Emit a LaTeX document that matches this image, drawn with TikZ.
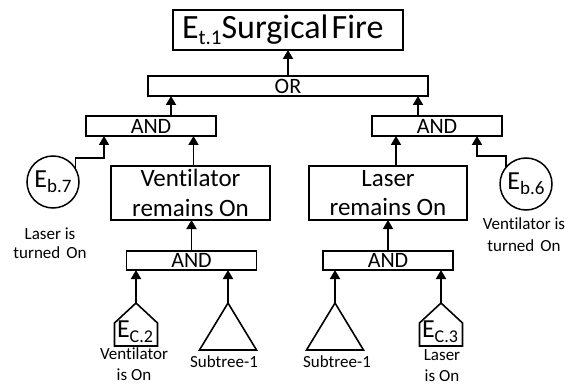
\documentclass[tikz,border=0pt]{standalone}
\usepackage{fontspec}
\setmainfont{Carlito}[Ligatures=NoCommon]
\usetikzlibrary{arrows.meta}

\newcommand\fs[1]{\fontsize{#1}{1.2\dimexpr#1pt\relax}\selectfont}
\newcommand\lowsub[3]{\raisebox{-#2pt}{\fontsize{#1}{#1}\selectfont #3}}

\begin{document}
\begin{tikzpicture}[x=1pt,y=-1pt,
  line width=1.9pt,
  every node/.style={inner sep=0pt, outer sep=0pt},
  eventbox/.style={draw, rectangle, align=center},
  gate/.style={draw, rectangle, minimum height=20pt, font=\fs{22}},
  andgate/.style={gate, minimum width=130pt},
  basic/.style={draw, circle, minimum size=52pt, line width=1.5pt},
  caption/.style={font=\fs{17}, align=center},
  arr/.style={-{Triangle[width=10pt,length=9pt]}},
]
\useasboundingbox (0,0) rectangle (576,385);

% top event and OR gate
\node[eventbox, minimum height=40pt, text width=212pt, inner xsep=9pt, align=left]
  (top) at (288,30) {\fs{34}E\lowsub{21}{6}{t.1}Surgical Fire};
\node[gate, minimum width=280pt] (or) at (288,86) {OR};

% upper AND gates
\node[andgate] (andL) at (151,126) {AND};
\node[andgate] (andR) at (437,126) {AND};

% intermediate events
\node[eventbox, minimum width=159pt, minimum height=54pt, font=\fs{25}]
  (vent) at (190.5,193) {Ventilator\\[-0.5pt]remains On};
\node[eventbox, minimum width=158pt, minimum height=54pt, font=\fs{25}]
  (laser) at (388,193) {Laser\\[-0.5pt]remains On};

% basic events
\node[basic] (eb7) at (53,182) {\fs{26}E\lowsub{19}{5}{b.7}};
\node[basic] (eb6) at (526,184) {\fs{26}E\lowsub{19}{5}{b.6}};
\node[caption, font=\fontsize{17}{19}\selectfont] (c7) at (50,243.5) {Laser is\\turned\hspace{0.35em}On};
\node[caption, font=\fontsize{17}{22}\selectfont] (c6) at (524,235) {Ventilator is\\turned\hspace{0.35em}On};

% lower AND gates
\node[andgate, minimum height=19pt] (andLL) at (191.5,260.5) {AND};
\node[andgate, minimum height=19pt] (andRL) at (388,260.5) {AND};

% conditioning events (house shapes) and transfer triangles
\coordinate (h2) at (136,303);
\coordinate (h3) at (441,303);
\coordinate (s1) at (228,303);
\coordinate (s2) at (335,303);
\foreach \h in {h2,h3}
  \draw[line width=1.6pt] (\h) -- ++(21.5,20) -- ++(0,23) -- ++(-43,0) -- ++(0,-23) -- cycle;
\foreach \s in {s1,s2}
  \draw[line width=1.6pt] (\s) -- ++(28.5,47) -- ++(-57,0) -- cycle;

\node[anchor=base west] (ec2) at (117,337) {\fs{26}E\lowsub{18}{5}{C.2}};
\node[anchor=base west] (ec3) at (422,337) {\fs{26}E\lowsub{18}{5}{C.3}};
\node[caption, font=\fontsize{17}{21}\selectfont] (lc2) at (134,364.5) {Ventilator\\is On};
\node[caption, font=\fontsize{17}{21}\selectfont] (lc3) at (442,365.5) {Laser\\is On};
\node[caption] (ls1) at (224,362) {Subtree-1};
\node[caption] (ls2) at (337,362) {Subtree-1};

% connectors
\draw[arr] (or.north) -- (top.south);
\draw[arr] ([xshift=20pt]andL.north) -- ([xshift=20pt]andL.north |- or.south);
\draw[arr] ([xshift=-19pt]andR.north) -- ([xshift=-19pt]andR.north |- or.south);
\draw[arr] (eb7.30) -- ++(0,-11) -| ([xshift=-47pt]andL.south);
\draw[arr] ([xshift=3pt]vent.north) -- ([xshift=3pt]vent.north |- andL.south);
\draw[arr] (andLL.north) -- (andLL.north |- vent.south);
\draw[arr] ([xshift=8pt]laser.north) -- ([xshift=8pt]laser.north |- andR.south);
\draw[arr] (eb6.140) -- ++(0,-11) -| ([xshift=40pt]andR.south);
\draw[arr] (andRL.north) -- (laser.south);
\draw[arr] (h2) -- (h2 |- andLL.south);
\draw[arr] (s1) -- (s1 |- andLL.south);
\draw[arr] (s2) -- (s2 |- andRL.south);
\draw[arr] (h3) -- (h3 |- andRL.south);
\end{tikzpicture}
\end{document}
